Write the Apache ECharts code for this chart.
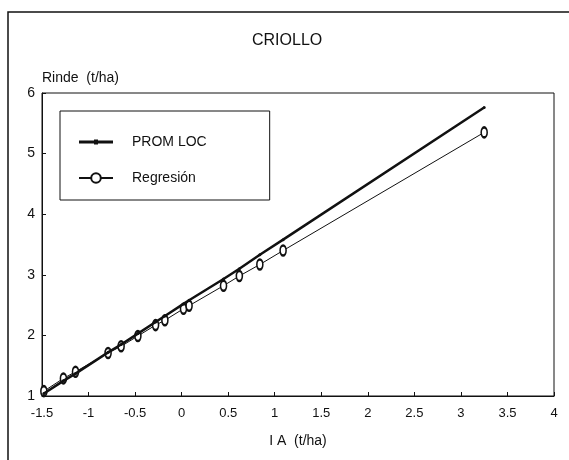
<!DOCTYPE html>
<html>
<head>
<meta charset="utf-8">
<title>CRIOLLO</title>
<script src="https://cdn.jsdelivr.net/npm/echarts@6/dist/echarts.min.js"></script>
<style>
  html, body { margin: 0; padding: 0; background: #fff; }
  #chart { width: 569px; height: 460px; }
</style>
</head>
<body>
<div id="chart"></div>
<script>
// Índice ambiental (t/ha) de cada localidad
const indiceAmbiental = [-1.48, -1.27, -1.14, -0.79, -0.65, -0.47, -0.28, -0.18, 0.02, 0.08, 0.45, 0.62, 0.84, 1.09, 3.25]
// promedio de localidades
const promLoc = [1.04, 1.25, 1.37, 1.72, 1.85, 2.03, 2.22, 2.32, 2.52, 2.58, 2.93, 3.10, 3.33, 3.58, 5.76]
// recta de regresión del cultivar
const regresion = [1.08, 1.29, 1.40, 1.71, 1.82, 1.99, 2.17, 2.25, 2.44, 2.49, 2.82, 2.98, 3.17, 3.40, 5.35]

const xTicks = [-1.5, -1, -0.5, 0, 0.5, 1, 1.5, 2, 2.5, 3, 3.5, 4]

const font = '"Liberation Sans", Arial, Helvetica, sans-serif'

const chart = echarts.init(document.getElementById('chart'))

const toPairs = (xs, ys) => xs.map((x, i) => [x, ys[i]])

chart.setOption({
  animation: false,
  backgroundColor: '#fff',
  textStyle: { fontFamily: font, color: '#111' },
  title: {
    text: 'CRIOLLO',
    left: 247,
    top: 28,
    textStyle: { fontSize: 16, fontWeight: 'normal', color: '#111', fontFamily: font }
  },
  graphic: [
    {
      // marco exterior de la figura
      type: 'rect',
      shape: { x: 8, y: 12, width: 620, height: 520 },
      style: { fill: 'none', stroke: '#111', lineWidth: 1.5 }
    }
  ],
  legend: {
    left: 60,
    top: 111,
    orient: 'vertical',
    padding: [24, 63, 15, 18],
    itemGap: 22,
    itemWidth: 34,
    itemHeight: 12,
    borderColor: '#111',
    borderWidth: 1,
    textStyle: { fontSize: 14, color: '#111', fontFamily: font, padding: [0, 0, 0, 14] },
    data: [
      // línea gruesa con un punto pequeño, como en el original
      { name: 'PROM LOC', icon: 'path://M0,1 H34 V4 H0 Z M15,0 H19 V5 H15 Z' },
      { name: 'Regresión' }
    ]
  },
  grid: {
    left: 42,
    right: 15,
    top: 93,
    bottom: 64,
    show: true,
    borderColor: '#111',
    borderWidth: 1
  },
  xAxis: {
    type: 'value',
    min: -1.5,
    max: 4,
    interval: 0.5,
    name: 'I A  (t/ha)',
    nameLocation: 'middle',
    nameGap: 38,
    nameTextStyle: { fontSize: 14, color: '#111' },
    axisLine: { onZero: false, lineStyle: { color: '#111', width: 1 } },
    axisTick: { inside: true, length: 4, lineStyle: { color: '#111' } },
    axisLabel: {
      fontSize: 13,
      color: '#111',
      margin: 11,
      formatter: v => xTicks.includes(v) ? String(v) : ''
    },
    splitLine: { show: false }
  },
  yAxis: {
    type: 'value',
    min: 1,
    max: 6,
    interval: 1,
    name: 'Rinde  (t/ha)',
    nameLocation: 'end',
    nameGap: 8,
    nameTextStyle: { fontSize: 14, color: '#111', align: 'left', verticalAlign: 'bottom' },
    axisLine: { onZero: false, lineStyle: { color: '#111', width: 1 } },
    axisTick: { inside: true, length: 4, lineStyle: { color: '#111' } },
    axisLabel: { fontSize: 14, color: '#111', margin: 7 },
    splitLine: { show: false }
  },
  series: [
    {
      name: 'PROM LOC',
      type: 'line',
      data: toPairs(indiceAmbiental, promLoc),
      symbol: 'circle',
      symbolSize: 3,
      itemStyle: { color: '#111' },
      lineStyle: { color: '#111', width: 2.5 },
      z: 3
    },
    {
      name: 'Regresión',
      type: 'line',
      data: toPairs(indiceAmbiental, regresion),
      symbol: 'emptyCircle',
      symbolSize: [6, 10],
      itemStyle: { color: '#111', borderWidth: 1.2 },
      lineStyle: { color: '#111', width: 1 },
      z: 2
    }
  ]
})
</script>
</body>
</html>
